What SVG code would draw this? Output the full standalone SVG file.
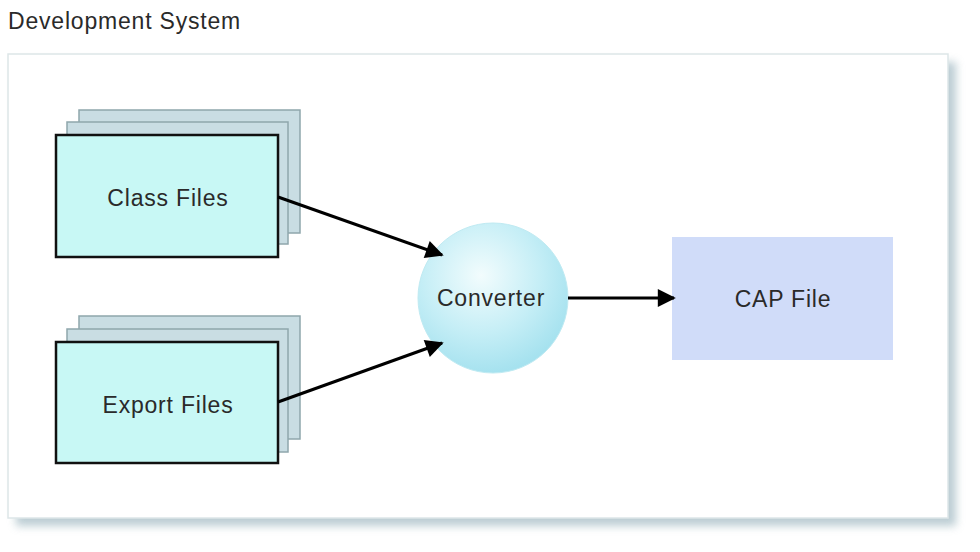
<svg xmlns="http://www.w3.org/2000/svg" width="980" height="552" viewBox="0 0 980 552">
<style>
text{font-family:"Liberation Sans",Arial,sans-serif;fill:#2a2a2a;letter-spacing:0.8px;}
.lbl{font-size:23px;text-anchor:middle;}
.back{fill:#c9dde3;stroke:#8fa6ac;stroke-width:1.5;}
.front{fill:#c8f8f5;stroke:#111;stroke-width:2.5;}
.conn{stroke:#000;stroke-width:3;fill:none;marker-end:url(#ah);}
</style>
<defs>
<marker id="ah" viewBox="0 0 10 10" refX="9" refY="5" markerWidth="8" markerHeight="6" orient="auto" markerUnits="strokeWidth">
<path d="M0,0 L10,5 L0,10 z" fill="#000"/>
</marker>
<radialGradient id="cg" cx="0.42" cy="0.35" r="0.65">
<stop offset="0" stop-color="#f2fcfd"/>
<stop offset="0.6" stop-color="#c5eef6"/>
<stop offset="1" stop-color="#a6e2ef"/>
</radialGradient>
<filter id="blur" x="-5%" y="-5%" width="110%" height="110%"><feGaussianBlur stdDeviation="4"/></filter>
</defs>
<rect width="980" height="552" fill="#fff"/>
<text x="8" y="29" style="font-size:23px;">Development System</text>
<g id="panel">
<rect x="16" y="62" width="940" height="464" fill="#b0c5cc" filter="url(#blur)" opacity="0.85"/>
<rect x="8" y="54" width="940" height="464" fill="#fff" stroke="#dde6e8" stroke-width="1.5"/>
</g>
<g id="class-files">
<rect class="back" x="79" y="110" width="221" height="123"/>
<rect class="back" x="67" y="122" width="221" height="122"/>
<rect class="front" x="56" y="135" width="222" height="122"/>
<text class="lbl" x="168" y="206">Class Files</text>
</g>
<g id="export-files">
<rect class="back" x="79" y="316" width="221" height="123"/>
<rect class="back" x="67" y="329" width="221" height="123"/>
<rect class="front" x="56" y="342" width="222" height="121"/>
<text class="lbl" x="168" y="413">Export Files</text>
</g>
<g id="converter">
<circle cx="493" cy="298" r="75" fill="url(#cg)" stroke="#bfeaf2" stroke-width="1"/>
<text class="lbl" x="491" y="306">Converter</text>
</g>
<g id="cap-file">
<rect x="672" y="237" width="221" height="123" fill="#d0dcf9"/>
<text class="lbl" x="783" y="307">CAP File</text>
</g>
<g id="connectors">
<line class="conn" x1="278" y1="197" x2="442" y2="255"/>
<line class="conn" x1="278" y1="402" x2="442" y2="343"/>
<line class="conn" x1="568" y1="298" x2="674" y2="298"/>
</g>
</svg>
